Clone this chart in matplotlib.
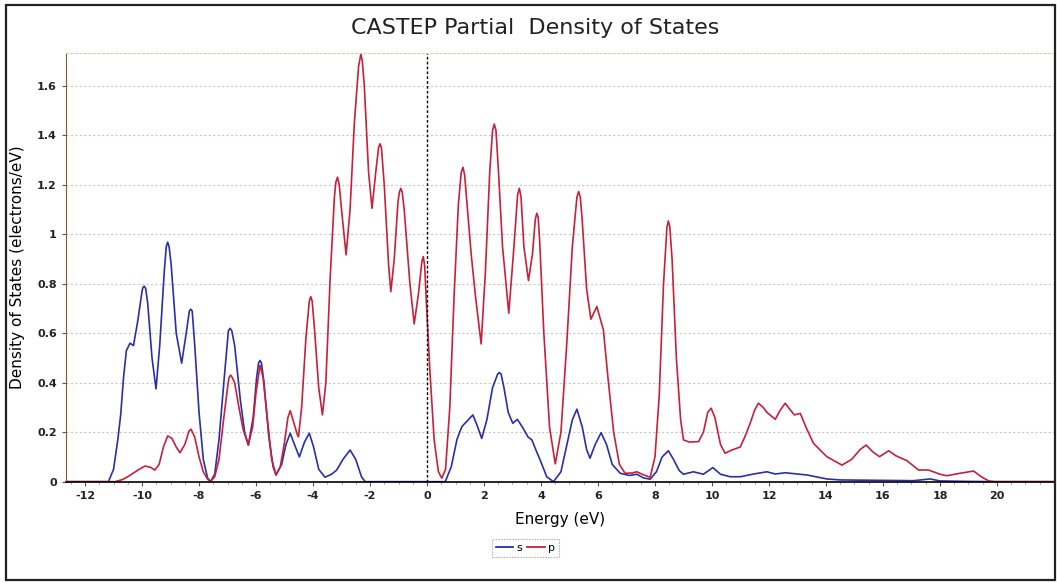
import matplotlib.pyplot as plt
from matplotlib.ticker import MultipleLocator, AutoMinorLocator
from matplotlib.lines import Line2D

# s-orbital partial DOS (energy in eV, states in electrons/eV)
energy_s = [-12.6, -11.3, -11.18, -11.0, -10.85, -10.75, -10.65, -10.55, -10.42, -10.3,
            -10.15, -10.0, -9.97, -9.92, -9.87, -9.8, -9.65, -9.51, -9.38, -9.22,
            -9.15, -9.1, -9.05, -8.98, -8.8, -8.61, -8.45, -8.34, -8.29, -8.24,
            -8.15, -8.0, -7.85, -7.7, -7.6, -7.45, -7.3, -7.1, -6.97, -6.91,
            -6.85, -6.75, -6.55, -6.4, -6.27, -6.1, -5.98, -5.91, -5.86, -5.81,
            -5.72, -5.55, -5.4, -5.3, -5.1, -4.95, -4.8, -4.65, -4.48, -4.3,
            -4.13, -3.98, -3.8, -3.58, -3.35, -3.17, -2.95, -2.7, -2.5, -2.3,
            -2.17, 0.64, 0.85, 1.05, 1.22, 1.45, 1.61, 1.75, 1.92, 2.1,
            2.3, 2.48, 2.54, 2.6, 2.7, 2.85, 3.01, 3.17, 3.35, 3.55,
            3.68, 3.85, 3.97, 4.2, 4.44, 4.7, 4.95, 5.1, 5.26, 5.45,
            5.6, 5.72, 5.9, 6.11, 6.3, 6.5, 6.78, 7.1, 7.36, 7.6,
            7.83, 8.05, 8.25, 8.47, 8.65, 8.85, 9.0, 9.35, 9.7, 10.03,
            10.3, 10.64, 11.0, 11.46, 11.93, 12.22, 12.57, 13.34, 14.03, 14.5,
            15.5, 16.5, 17.07, 17.66, 18.0, 19.0, 20.0, 22.0]
dos_s = [0.0, 0.0, 0.0, 0.05, 0.17, 0.27, 0.42, 0.53, 0.56, 0.55,
         0.65, 0.77, 0.785, 0.79, 0.78, 0.72, 0.5, 0.375, 0.55, 0.85,
         0.95, 0.968, 0.95, 0.88, 0.6, 0.479, 0.6, 0.69, 0.697, 0.69,
         0.55, 0.28, 0.09, 0.015, 0.0, 0.03, 0.17, 0.44, 0.61, 0.62,
         0.61, 0.55, 0.33, 0.2, 0.148, 0.26, 0.42, 0.48, 0.49, 0.48,
         0.4, 0.18, 0.06, 0.027, 0.07, 0.15, 0.196, 0.15, 0.10, 0.16,
         0.196, 0.14, 0.05, 0.018, 0.03, 0.047, 0.09, 0.128, 0.09, 0.02,
         0.0, 0.0, 0.06, 0.17, 0.222, 0.25, 0.27, 0.23, 0.175, 0.25,
         0.38, 0.435, 0.441, 0.435, 0.38, 0.28, 0.236, 0.252, 0.22, 0.18,
         0.169, 0.12, 0.088, 0.02, 0.0, 0.04, 0.17, 0.25, 0.293, 0.22,
         0.13, 0.095, 0.15, 0.198, 0.15, 0.07, 0.034, 0.025, 0.03, 0.015,
         0.01, 0.04, 0.1, 0.125, 0.09, 0.045, 0.03, 0.04, 0.03, 0.057,
         0.03, 0.02, 0.02, 0.031, 0.04, 0.031, 0.036, 0.027, 0.011, 0.007,
         0.006, 0.005, 0.004, 0.011, 0.003, 0.001, 0.0, 0.0]

# p-orbital partial DOS
energy_p = [-12.6, -11.2, -10.95, -10.7, -10.5, -10.3, -10.1, -9.9, -9.7, -9.55,
            -9.4, -9.25, -9.1, -8.95, -8.8, -8.67, -8.5, -8.35, -8.28, -8.15,
            -8.0, -7.85, -7.7, -7.6, -7.45, -7.3, -7.15, -7.0, -6.95, -6.89,
            -6.83, -6.75, -6.6, -6.45, -6.27, -6.12, -6.0, -5.86, -5.75, -5.6,
            -5.45, -5.3, -5.15, -5.0, -4.88, -4.8, -4.68, -4.55, -4.51, -4.4,
            -4.25, -4.13, -4.08, -4.03, -3.95, -3.8, -3.67, -3.55, -3.4, -3.25,
            -3.2, -3.14, -3.08, -3.0, -2.84, -2.7, -2.55, -2.4, -2.32, -2.27,
            -2.2, -2.05, -1.93, -1.8, -1.7, -1.65, -1.6, -1.5, -1.35, -1.27,
            -1.15, -1.02, -0.97, -0.92, -0.87, -0.8, -0.6, -0.45, -0.3, -0.18,
            -0.13, -0.08, -0.02, 0.1, 0.25, 0.4, 0.52, 0.65, 0.8, 0.95,
            1.1, 1.2, 1.26, 1.32, 1.4, 1.55, 1.7, 1.9, 2.05, 2.2,
            2.3, 2.36, 2.42, 2.5, 2.65, 2.87, 3.05, 3.18, 3.24, 3.3,
            3.4, 3.56, 3.7, 3.8, 3.85, 3.9, 3.95, 4.1, 4.3, 4.5,
            4.7, 4.9, 5.1, 5.26, 5.32, 5.38, 5.45, 5.6, 5.75, 5.96,
            6.19, 6.35, 6.55, 6.75, 6.95, 7.2, 7.36, 7.55, 7.83, 8.0,
            8.15, 8.3, 8.42, 8.47, 8.52, 8.6, 8.75, 8.9, 9.0, 9.2,
            9.53, 9.7, 9.85, 9.97, 10.1, 10.3, 10.46, 10.7, 10.99, 11.15,
            11.34, 11.5, 11.63, 11.8, 11.93, 12.22, 12.4, 12.57, 12.75, 12.89,
            13.1, 13.3, 13.56, 14.03, 14.56, 14.9, 15.2, 15.41, 15.65, 15.88,
            16.2, 16.45, 16.84, 17.25, 17.6, 18.0, 18.24, 18.71, 19.18, 19.45,
            19.71, 19.9, 22.0]
dos_p = [0.0, 0.0, 0.0, 0.008, 0.02, 0.035, 0.05, 0.063, 0.058, 0.047,
         0.07, 0.14, 0.185, 0.175, 0.14, 0.117, 0.15, 0.205, 0.212, 0.18,
         0.10, 0.04, 0.01, 0.0, 0.02, 0.09, 0.24, 0.38, 0.42, 0.431,
         0.42, 0.40, 0.30, 0.21, 0.148, 0.22, 0.36, 0.47, 0.42, 0.25,
         0.09, 0.027, 0.06, 0.16, 0.26, 0.287, 0.24, 0.19, 0.182, 0.3,
         0.58, 0.73, 0.748, 0.73, 0.62, 0.38, 0.27, 0.4, 0.82, 1.15,
         1.21, 1.231, 1.20, 1.10, 0.917, 1.1, 1.45, 1.68, 1.729, 1.70,
         1.6, 1.25, 1.105, 1.25, 1.35, 1.366, 1.35, 1.2, 0.88, 0.768,
         0.9, 1.13, 1.17, 1.186, 1.17, 1.1, 0.8, 0.638, 0.76, 0.89,
         0.91, 0.87, 0.72, 0.45, 0.17, 0.04, 0.014, 0.05, 0.3, 0.75,
         1.12, 1.25, 1.271, 1.24, 1.13, 0.92, 0.75, 0.557, 0.85, 1.25,
         1.42, 1.446, 1.42, 1.27, 0.95, 0.681, 0.95, 1.16, 1.186, 1.15,
         0.95, 0.813, 0.92, 1.06, 1.085, 1.07, 0.98, 0.6, 0.22, 0.072,
         0.2, 0.55, 0.95, 1.15, 1.173, 1.15, 1.05, 0.78, 0.657, 0.708,
         0.613, 0.42, 0.2, 0.07, 0.034, 0.035, 0.04, 0.03, 0.018, 0.1,
         0.35, 0.8, 1.03, 1.054, 1.03, 0.9, 0.5, 0.25, 0.169, 0.16,
         0.162, 0.2, 0.28, 0.297, 0.26, 0.15, 0.115, 0.128, 0.14, 0.18,
         0.236, 0.29, 0.317, 0.30, 0.28, 0.252, 0.29, 0.317, 0.29, 0.27,
         0.276, 0.22, 0.155, 0.101, 0.067, 0.09, 0.13, 0.148, 0.12, 0.101,
         0.125, 0.105, 0.085, 0.047, 0.047, 0.03, 0.024, 0.034, 0.043, 0.02,
         0.003, 0.0, 0.0]

xtick_values = list(range(-12, 21, 2))
fermi_level = 0.0

fig = plt.figure(figsize=(10.57, 5.83), dpi=100)
ax = fig.add_axes([0.0624, 0.1738, 0.9347, 0.7353])

ax.plot(energy_s, dos_s, color="#2a2fa8", lw=1.2, label="s", solid_joinstyle="round")
ax.plot(energy_p, dos_p, color="#c8203a", lw=1.2, label="p", solid_joinstyle="round")
ax.axvline(fermi_level, color="black", lw=1.0, ls=(0, (2, 1.5)))

ax.set_xlim(-12.67, 22.0)
ax.set_ylim(0, 1.733)
ax.set_xticks(xtick_values)
ax.xaxis.set_minor_locator(AutoMinorLocator(4))
ax.yaxis.set_major_locator(MultipleLocator(0.2))
ax.yaxis.set_major_formatter(plt.FuncFormatter(lambda v, p: f"{v:g}"))
ax.xaxis.set_major_formatter(plt.FuncFormatter(lambda v, p: f"{v:g}"))
ax.tick_params(axis="both", labelsize=8, length=3, color="#555555")
ax.tick_params(axis="x", which="minor", length=1.5, color="#888888")
for lbl in ax.get_xticklabels() + ax.get_yticklabels():
    lbl.set_fontweight("bold")
    lbl.set_color("#222222")

ax.grid(axis="y", color="#c8c8c8", ls=(0, (2, 2)), lw=0.8)
ax.spines["left"].set_color("#8a5a2a")
ax.spines["bottom"].set_color("black")
ax.spines["bottom"].set_linewidth(1.2)
for side in ("top", "right"):
    ax.spines[side].set_color("#cfcfc0")
    ax.spines[side].set_linestyle((0, (2, 2)))
    ax.spines[side].set_linewidth(0.8)

ax.set_xlabel("Energy (eV)", fontsize=11, labelpad=8)
ax.set_ylabel("Density of States (electrons/eV)", fontsize=11)
ax.yaxis.set_label_coords(-0.0415, 0.5)
fig.text(0.506, 0.952, "CASTEP Partial  Density of States", ha="center",
         va="center", fontsize=16, color="#222222")

handles = [Line2D([], [], color="#2a2fa8", lw=1.3),
           Line2D([], [], color="#c8203a", lw=1.3)]
leg = fig.legend(handles, ["s", "p"], loc="center", bbox_to_anchor=(0.497, 0.06),
                 ncol=2, fontsize=8, handlelength=1.6, handletextpad=0.3,
                 columnspacing=0.4, borderpad=0.35, fancybox=False, frameon=True)
leg.get_frame().set_edgecolor("#b0a080")
leg.get_frame().set_linestyle((0, (1.5, 1)))
leg.get_frame().set_linewidth(0.8)

# outer border of the figure
fig.add_artist(plt.Rectangle((6 / 1057, 3 / 583), 1049 / 1057, 575 / 583,
                             transform=fig.transFigure, fill=False,
                             edgecolor="#222222", lw=1.6))

fig.savefig("out.png", dpi=100)
